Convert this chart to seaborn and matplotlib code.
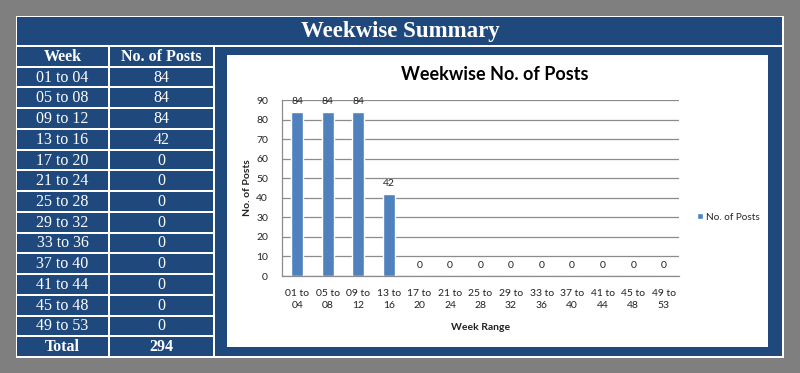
import matplotlib
matplotlib.use("Agg")
import matplotlib.pyplot as plt
from matplotlib.patches import Rectangle
import seaborn as sns
import pandas as pd

# ---- data ----
week_ranges = ["01 to 04", "05 to 08", "09 to 12", "13 to 16", "17 to 20", "21 to 24",
               "25 to 28", "29 to 32", "33 to 36", "37 to 40", "41 to 44", "45 to 48",
               "49 to 53"]
posts = [84, 84, 84, 42, 0, 0, 0, 0, 0, 0, 0, 0, 0]
tick_labels = [w.replace(" to ", " to\n") for w in week_ranges]
title_text = "Weekwise Summary"
chart_title = "Weekwise No. of Posts"
series_name = "No. of Posts"

NAVY = "#1F497D"
BAR = "#4F81BD"
GREY_BG = "#7F7F7F"
GRID = "#8C8C8C"

sns.set_theme(style="white")
plt.rcParams["font.family"] = ["Lato", "DejaVu Sans"]

W, H = 800, 373
fig = plt.figure(figsize=(W / 100, H / 100), dpi=100, facecolor=GREY_BG)


def rect(x0, y0, x1, y1, color, z=0, ec=None, lw=0):
    fig.patches.append(Rectangle((x0 / W, 1 - y1 / H), (x1 - x0) / W, (y1 - y0) / H,
                                 transform=fig.transFigure, facecolor=color,
                                 edgecolor=ec if ec else "none", linewidth=lw, zorder=z))


def ftext(x, y, s, **kw):
    fig.text(x / W, 1 - y / H, s, ha="center", va="center", **kw)


serif = ["Liberation Serif", "DejaVu Serif"]

# outer white frame
rect(16, 16, 784, 358, "white", z=0)
# title band
rect(17, 17, 782, 45, NAVY, z=1)
ftext(400, 32, title_text, color="white", fontsize=16.5, fontweight="bold", family=serif)

# table
top, bottom = 47, 356
n_rows = len(week_ranges) + 2
rh = (bottom - top + 2) / n_rows
rows = [("Week", "No. of Posts", True)] + \
       [(w, str(p), False) for w, p in zip(week_ranges, posts)] + \
       [("Total", str(sum(posts)), True)]
for i, (a, b, bold) in enumerate(rows):
    y0 = top + i * rh
    y1 = y0 + rh - 2
    rect(17, y0, 108, y1, NAVY, z=1)
    rect(110, y0, 213, y1, NAVY, z=1)
    yc = (y0 + y1) / 2 + 0.5
    fw = "bold" if bold else "normal"
    ftext(62.5, yc, a, color="white", fontsize=11.5, fontweight=fw, family=serif)
    ftext(161.5, yc, b, color="white", fontsize=11.5, fontweight=fw, family=serif)

# chart navy region and white panel
rect(215, 47, 782, 356, NAVY, z=1)
rect(227, 55, 768, 347, "white", z=2)

# axes
ax_l, ax_r, ax_t, ax_b = 282, 679, 100, 276
ax = fig.add_axes([ax_l / W, 1 - ax_b / H, (ax_r - ax_l) / W, (ax_b - ax_t) / H])
ax.set_zorder(3)
ax.patch.set_alpha(0)

df = pd.DataFrame({"week": tick_labels, "posts": posts})
sns.barplot(data=df, x="week", y="posts", color=BAR, width=0.4, ax=ax,
            label=series_name, saturation=1)
for c in ax.containers:
    ax.bar_label(c, padding=4, fontsize=7.5, color="#222222")

ax.set_ylim(0, 90)
ax.set_yticks(range(0, 91, 10))
ax.set_xlim(-0.5, len(posts) - 0.5)
ax.yaxis.grid(True, color=GRID, linewidth=0.9)
ax.set_axisbelow(True)
for s in ["top", "right"]:
    ax.spines[s].set_visible(False)
for s in ["left", "bottom"]:
    ax.spines[s].set_color(GRID)
    ax.spines[s].set_linewidth(0.9)

ax.set_xticks(range(len(posts)))
ax.set_xticklabels(tick_labels, fontsize=7.5, linespacing=1.45)
ax.set_xticks([i - 0.5 for i in range(len(posts) + 1)], minor=True)
ax.tick_params(axis="x", which="major", length=0, pad=9, colors="#222222")
ax.tick_params(axis="x", which="minor", length=4, width=0.9, color=GRID, direction="out")
ax.tick_params(axis="y", which="major", length=4, width=0.9, color=GRID, direction="out",
               labelsize=7.5, labelcolor="#222222", pad=6)
ax.set_xlabel("Week Range", fontsize=7.5, fontweight="bold", color="#222222")
ax.set_ylabel("No. of Posts", fontsize=7.5, fontweight="bold", color="#222222")
ax.xaxis.set_label_coords(0.5, -(327 - ax_b) / (ax_b - ax_t), transform=ax.transAxes)
ax.xaxis.label.set_va("center")
ax.yaxis.set_label_coords(-(ax_l - 247) / (ax_r - ax_l), 0.5, transform=ax.transAxes)
ax.yaxis.label.set_va("center")

ax.legend(loc="center left", bbox_to_anchor=(692 / W, 1 - 217 / H),
          bbox_transform=fig.transFigure, frameon=False, fontsize=7.2,
          handlelength=0.6, handleheight=0.6, handletextpad=0.35, borderpad=0)

ftext(495, 74, chart_title, fontsize=13, fontweight="bold", color="black")

fig.savefig("out.png", dpi=100, facecolor=GREY_BG)
